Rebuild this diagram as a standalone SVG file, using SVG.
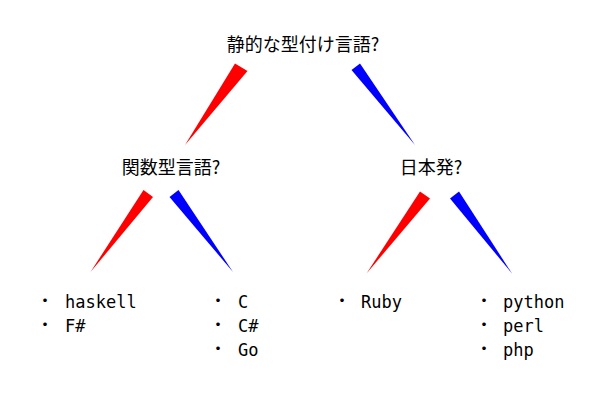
<svg xmlns="http://www.w3.org/2000/svg" width="600" height="400" viewBox="0 0 600 400">
<style>
.q{font-family:"Noto Sans CJK JP","Noto Sans",sans-serif;font-size:18px;fill:#000;text-anchor:middle}
.li{font-family:"DejaVu Sans Mono","Liberation Mono","Noto Sans CJK JP",monospace;font-size:17px;fill:#000}
.b{font-family:"Noto Sans CJK JP",sans-serif;font-size:17px;fill:#000;text-anchor:middle}
.r{fill:#ff0000}
.bl{fill:#0000ff}
</style>
<rect width="600" height="400" fill="#fff"/>
<g id="connectors">
<polygon class="r" points="235,63.5 247.5,71 185,145"/>
<polygon class="bl" points="351.5,70 360,63.5 415,145"/>
<polygon class="r" points="143.5,190 153,197 90.5,272"/>
<polygon class="bl" points="169.5,197 178.5,190 233,272"/>
<polygon class="r" points="420,191.5 430,198.5 366.5,273.5"/>
<polygon class="bl" points="450,198.5 459,191.5 512,273.5"/>
</g>
<g id="n-root"><text class="q" x="303" y="51">静的な型付け言語?</text></g>
<g id="n-func"><text class="q" x="171" y="174">関数型言語?</text></g>
<g id="n-jp"><text class="q" x="431" y="174">日本発?</text></g>
<g id="leaf-func">
<text class="b" x="45" y="307">・</text><text class="li" x="65" y="308">haskell</text>
<text class="b" x="45" y="331">・</text><text class="li" x="65" y="332">F#</text>
</g>
<g id="leaf-nonfunc">
<text class="b" x="218" y="307">・</text><text class="li" x="238" y="308">C</text>
<text class="b" x="218" y="331">・</text><text class="li" x="238" y="332">C#</text>
<text class="b" x="218" y="355">・</text><text class="li" x="238" y="356">Go</text>
</g>
<g id="leaf-jp">
<text class="b" x="342" y="307">・</text><text class="li" x="361" y="308">Ruby</text>
</g>
<g id="leaf-nonjp">
<text class="b" x="484" y="307">・</text><text class="li" x="503" y="308">python</text>
<text class="b" x="484" y="331">・</text><text class="li" x="503" y="332">perl</text>
<text class="b" x="484" y="355">・</text><text class="li" x="503" y="356">php</text>
</g>
</svg>
